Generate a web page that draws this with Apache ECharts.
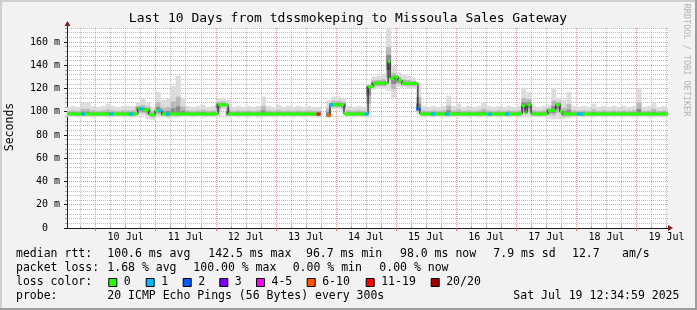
<!DOCTYPE html>
<html>
<head>
<meta charset="utf-8">
<script src="https://cdn.jsdelivr.net/npm/echarts@6/dist/echarts.min.js"></script>
<style>
  html, body { margin: 0; padding: 0; background: #f2f2f2; }
  #chart { width: 697px; height: 310px; }
</style>
</head>
<body>
<div id="chart"></div>
<script>
// x values are hours since 9 Jul 00:00
const startHour = 12.58;
const endHour = 252.58;

const dayLines = [24, 48, 72, 96, 120, 144, 168, 192, 216, 240];
const sixHourLines = [18, 30, 36, 42, 54, 60, 66, 78, 84, 90, 102, 108, 114, 126, 132, 138,
  150, 156, 162, 174, 180, 186, 198, 204, 210, 222, 228, 234, 246, 252];
const dayLabelHours = [36, 60, 84, 108, 132, 156, 180, 204, 228, 252];
const dayLabels = ["10 Jul", "11 Jul", "12 Jul", "13 Jul", "14 Jul", "15 Jul", "16 Jul", "17 Jul", "18 Jul", "19 Jul"];

const yMajor = [0, 20, 40, 60, 80, 100, 120, 140, 160];
const yMinor = [4, 8, 12, 16, 24, 28, 32, 36, 44, 48, 52, 56, 64, 68, 72, 76, 84, 88, 92, 96,
  104, 108, 112, 116, 124, 128, 132, 136, 144, 148, 152, 156, 164, 168, 172];

// median rtt (ms), held from each start hour until the next one
const medianStart = [12.58, 40.9, 42.9, 45.3, 47.7, 50.5, 72.9, 76.9, 113.6, 116.8, 117.6, 123.2,
  132.8, 134.8, 140.8, 141.6, 143.2, 144.8, 146.4, 152.7, 153.5, 194.3, 195.5, 196.3, 197.9,
  204.6, 207.8, 209.4, 210.6];
const medianValue = [98, 102.5, 101.5, 97.5, 101, 98, 106, 98, null, 97, 106, 98,
  121.5, 124.5, 143, 128.5, 130, 127, 124.3, 102.5, 98, 105, 99, 106, 98,
  101, 106, 100, 98];

// samples with packet loss: hour and loss class (index into lossColors)
const lossHour = [18.97, 30.15, 38.1, 42.1, 49.7, 52.9, 113.0, 117.2, 118.0, 132.2, 152.9,
  158.7, 164.3, 181.5, 188.3, 216.9, 218.0];
const lossClass = [1, 1, 1, 1, 1, 1, 6, 5, 1, 1, 2, 1, 1, 1, 1, 1, 1];

const lossColors = ["#26ff00", "#00b8ff", "#0059ff", "#7e00ff", "#ff00ff", "#ff5500", "#ff0000", "#a10000"];
const lossLabels = ["0", "1", "2", "3", "4-5", "6-10", "11-19", "20/20"];

// smoke: 2 hour slots starting at hour 12 (one row = one day, noon to noon)
const smokeHi = [
  104, 105, 104, 108, 108, 105, 104, 105, 107, 105, 104, 105,
  105, 105, 108, 111, 108, 104, 117, 110, 111, 122, 131, 112,
  105, 104, 105, 106, 104, 105, 111, 112, 110, 104, 105, 104,
  105, 104, 105, 113, 105, 104, 106, 104, 105, 104, 105, 104,
  105, 104, 104, null, 110, 113, 113, 111, 105, 104, 105, 104,
  124, 130, 131, 132, 171, 139, 134, 132, 131, 129, 125, 105,
  104, 105, 104, 105, 114, 105, 107, 104, 105, 104, 105, 108,
  105, 104, 105, 104, 105, 104, 105, 120, 117, 105, 104, 105,
  106, 120, 112, 110, 117, 105, 104, 105, 104, 107, 104, 105,
  104, 105, 104, 105, 104, 105, 120, 104, 105, 108, 104, 105,
  104
];
const smokeLo = [
  95.5, 95.5, 95, 95.5, 95.5, 95, 95.5, 95.5, 95, 95.5, 95.5, 95,
  95.5, 95, 97, 97, 93.5, 93, 95, 95, 94.5, 95, 95, 95.5,
  95.5, 95, 95.5, 95, 95.5, 95, 95, 102, 95, 95.5, 95, 95.5,
  95, 95.5, 95, 95, 95.5, 95, 95.5, 95, 95.5, 95, 95.5, 95,
  95.5, 95, 95, null, 94.5, 102, 102, 100, 95.5, 95, 95.5, 95,
  95, 119, 120, 120, 118, 112, 121, 121, 120, 120, 98, 95,
  95.5, 95, 95.5, 95, 95, 95.5, 95, 95.5, 95, 95.5, 95, 95.5,
  95, 95.5, 95, 95.5, 95, 95.5, 95, 95, 95, 95.5, 95, 95.5,
  94, 93.5, 93.5, 94, 94.5, 95, 95.5, 95, 95.5, 95, 95.5, 95,
  95.5, 95, 95.5, 95, 95.5, 95, 95, 95.5, 95, 95, 95.5, 95,
  95.5
];

const MONO = '"DejaVu Sans Mono", monospace';

const medianAt = (h) => {
  let v = null;
  for (let k = 0; k < medianStart.length; k++) {
    if (medianStart[k] <= h) v = medianValue[k];
  }
  return v;
};

// build series data
const smokeData = [];
smokeHi.forEach((hi, i) => {
  if (hi === null || smokeLo[i] === null) return;
  const h0 = 12 + 2 * i;
  smokeData.push([h0, h0 + 2, smokeLo[i], hi, medianAt(h0 + 1)]);
});

const medianLine = [];
const colorSegments = [];
medianStart.forEach((h0, k) => {
  const v = medianValue[k];
  const h1 = k + 1 < medianStart.length ? medianStart[k + 1] : endHour;
  if (v === null) {
    medianLine.push([h0, null]);
    return;
  }
  medianLine.push([h0, v], [h1, v]);
  colorSegments.push([h0, h1, v, 0]);
});
lossHour.forEach((h, k) => {
  colorSegments.push([h - 0.8, h + 0.8, medianAt(h), lossClass[k]]);
});

const clipTo = (params, r) =>
  echarts.graphic.clipRectByRect(r, {
    x: params.coordSys.x,
    y: params.coordSys.y,
    width: params.coordSys.width,
    height: params.coordSys.height,
  });

const renderSmoke = (params, api) => {
  const h0 = api.value(0), h1 = api.value(1);
  const lo = api.value(2), hi = api.value(3), med = api.value(4);
  const bands = [
    [lo, hi, "#dcdcdc"],
    [med - (med - lo) * 0.55, med + (hi - med) * 0.45, "#b9b9b9"],
    [med - (med - lo) * 0.28, med + (hi - med) * 0.2, "#8a8a8a"],
  ];
  const children = [];
  bands.forEach((b) => {
    const p0 = api.coord([h0, b[1]]);
    const p1 = api.coord([h1, b[0]]);
    const r = clipTo(params, { x: p0[0], y: p0[1], width: p1[0] - p0[0], height: p1[1] - p0[1] });
    if (r) children.push({ type: "rect", shape: r, style: { fill: b[2] } });
  });
  return { type: "group", children };
};

const renderLoss = (params, api) => {
  const p0 = api.coord([api.value(0), api.value(2)]);
  const p1 = api.coord([api.value(1), api.value(2)]);
  const r = clipTo(params, { x: p0[0], y: p0[1] - 1.5, width: p1[0] - p0[0], height: 3 });
  if (!r) return null;
  return { type: "rect", shape: r, style: { fill: lossColors[api.value(3)] } };
};

// legend text and frame
const legendRows = [
  [254.5, [[16, "median rtt:"], [107.3, "100.6 ms avg"], [208.3, "142.5 ms max"], [306, "96.7 ms min"],
    [400, "98.0 ms now"], [493.3, "7.9 ms sd"], [572, "12.7"], [622, "am/s"]]],
  [268.5, [[16, "packet loss:"], [107.3, "1.68 % avg"], [193.3, "100.00 % max"], [292.7, "0.00 % min"],
    [379.3, "0.00 % now"]]],
  [282.5, [[16, "loss color:"]]],
  [296.3, [[16, "probe:"], [107.3, "20 ICMP Echo Pings (56 Bytes) every 300s"], [513.3, "Sat Jul 19 12:34:59 2025"]]],
];
const boxX = [108.3, 145.7, 182.7, 219.3, 256, 306.7, 365.7, 430.7];

const graphics = [
  { type: "rect", shape: { x: 0, y: 0, width: 697, height: 2 }, style: { fill: "#cfcfcf" } },
  { type: "rect", shape: { x: 0, y: 0, width: 2, height: 310 }, style: { fill: "#cfcfcf" } },
  { type: "rect", shape: { x: 695, y: 0, width: 2, height: 310 }, style: { fill: "#9e9e9e" } },
  { type: "rect", shape: { x: 0, y: 308, width: 697, height: 2 }, style: { fill: "#9e9e9e" } },
  {
    type: "text", x: 348, y: 19,
    style: { text: "Last 10 Days from tdssmokeping to Missoula Sales Gateway", font: "13px " + MONO, fill: "#000", align: "center", verticalAlign: "middle" },
  },
  {
    type: "text", x: 10, y: 127, rotation: Math.PI / 2,
    style: { text: "Seconds", font: "11.5px " + MONO, fill: "#000", align: "center", verticalAlign: "middle" },
  },
  {
    type: "text", x: 686, y: 60, rotation: -Math.PI / 2,
    style: { text: "RRDTOOL / TOBI OETIKER", font: "8.5px " + MONO, fill: "#b4b4b4", align: "center", verticalAlign: "middle" },
  },
  // axis arrows
  { type: "line", shape: { x1: 67.5, y1: 28, x2: 67.5, y2: 25 }, style: { stroke: "#1f1f1f", lineWidth: 1 } },
  { type: "polygon", shape: { points: [[64.5, 26], [67.5, 21], [70.5, 26]] }, style: { fill: "#801f1f" } },
  { type: "polygon", shape: { points: [[668, 225], [673, 228], [668, 231]] }, style: { fill: "#801f1f" } },
];
legendRows.forEach(([y, items]) => {
  items.forEach(([x, t]) => {
    graphics.push({ type: "text", x, y, style: { text: t, font: "11.5px " + MONO, fill: "#000", align: "left", verticalAlign: "middle" } });
  });
});
boxX.forEach((x, k) => {
  graphics.push({ type: "rect", shape: { x: x + 0.5, y: 278.5, width: 8, height: 8 }, style: { fill: lossColors[k], stroke: "#000", lineWidth: 1 } });
  graphics.push({ type: "text", x: x + 15.5, y: 282.5, style: { text: lossLabels[k], font: "11.5px " + MONO, fill: "#000", align: "left", verticalAlign: "middle" } });
});

const minorGrid = { color: "rgba(143,143,143,0.6)", type: [1, 1], width: 1 };
const majorGrid = { color: "rgba(222,79,79,0.6)", type: [1, 1], width: 1 };

const chart = echarts.init(document.getElementById("chart"), null, { renderer: "canvas" });
chart.setOption({
  animation: false,
  backgroundColor: "#f2f2f2",
  grid: { left: 67, top: 28, width: 601, height: 200, show: true, backgroundColor: "#fff", borderWidth: 0, z: -1 },
  xAxis: [
    {
      type: "value", min: startHour, max: endHour, z: 2,
      axisLine: { show: true, lineStyle: { color: "#1f1f1f" } },
      axisTick: { show: true, customValues: dayLines, length: 3, lineStyle: { color: "rgba(222,79,79,0.8)" } },
      axisLabel: {
        customValues: dayLabelHours, margin: 4, fontFamily: MONO, fontSize: 10, color: "#000",
        formatter: (v) => dayLabels[dayLabelHours.indexOf(v)] || "",
      },
      splitLine: { show: true, lineStyle: majorGrid },
    },
    {
      type: "value", min: startHour, max: endHour, z: 1,
      axisLine: { show: false },
      axisTick: { show: true, customValues: sixHourLines, length: 2, lineStyle: { color: "rgba(143,143,143,0.8)" } },
      axisLabel: { show: false },
      splitLine: { show: true, lineStyle: minorGrid },
    },
  ],
  yAxis: [
    {
      type: "value", min: 0, max: 172, z: 2,
      axisLine: { show: true, lineStyle: { color: "#1f1f1f" } },
      axisTick: { show: true, customValues: yMajor, length: 3, lineStyle: { color: "#1f1f1f" } },
      axisLabel: {
        customValues: yMajor, margin: 7, fontFamily: MONO, fontSize: 10, color: "#000",
        formatter: (v) => (v === 0 ? "0  " : v + " m"),
      },
      splitLine: { show: true, lineStyle: majorGrid },
    },
    {
      type: "value", min: 0, max: 172, z: 1, position: "left",
      axisLine: { show: false },
      axisTick: { show: true, customValues: yMinor, length: 2, lineStyle: { color: "rgba(143,143,143,0.8)" } },
      axisLabel: { show: false },
      splitLine: { show: true, lineStyle: minorGrid },
    },
  ],
  graphic: graphics,
  series: [
    {
      name: "smoke", type: "custom", xAxisIndex: 0, yAxisIndex: 0, z: 3,
      renderItem: renderSmoke, data: smokeData, silent: true,
    },
    {
      name: "median", type: "line", xAxisIndex: 0, yAxisIndex: 0, z: 4,
      data: medianLine, showSymbol: false, connectNulls: false,
      lineStyle: { color: "#000", width: 1 }, silent: true,
    },
    {
      name: "loss", type: "custom", xAxisIndex: 0, yAxisIndex: 0, z: 5,
      renderItem: renderLoss, data: colorSegments, silent: true,
    },
  ],
});
</script>
</body>
</html>
